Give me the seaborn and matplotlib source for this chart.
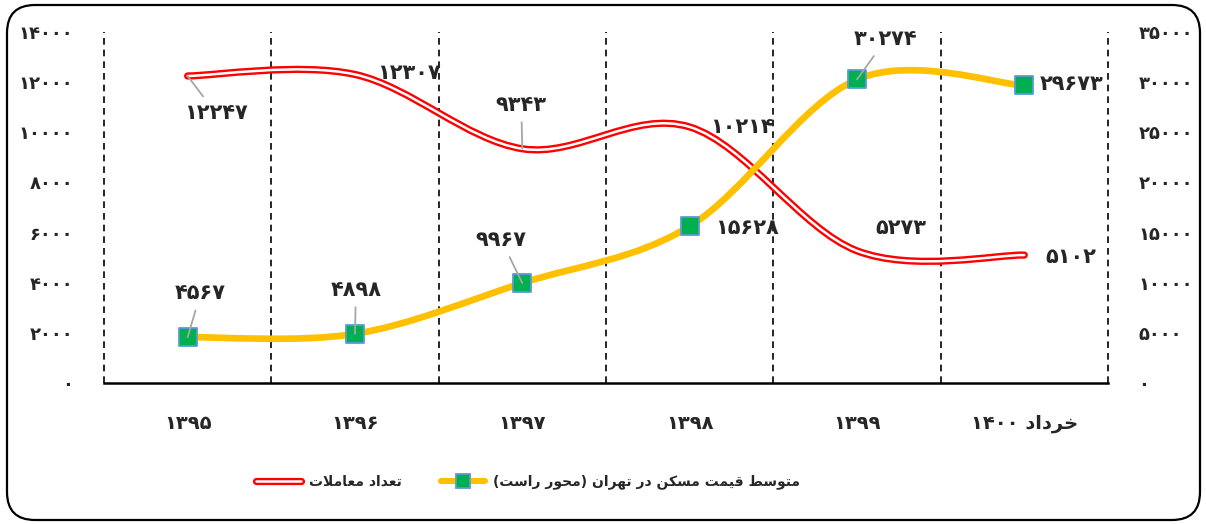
import numpy as np
import seaborn as sns
import matplotlib.pyplot as plt
from matplotlib.path import Path
from matplotlib.patches import PathPatch, FancyBboxPatch
from matplotlib.lines import Line2D
from matplotlib.legend_handler import HandlerTuple

# data
years = ["1395", "1396", "1397", "1398", "1399", "خرداد 1400"]
deals = [12247, 12307, 9343, 10214, 5273, 5102]
prices = [4567, 4898, 9967, 15628, 30274, 29673]
left_ticks = [0, 2000, 4000, 6000, 8000, 10000, 12000, 14000]
right_ticks = [0, 5000, 10000, 15000, 20000, 25000, 30000, 35000]
deals_name = "تعداد معاملات"
prices_name = "متوسط قیمت مسکن در تهران (محور راست)"

FA_DIGITS = str.maketrans("0123456789", "۰۱۲۳۴۵۶۷۸۹")

# minimal arabic shaping (matplotlib has no complex text layout)
FORMS = {
    "ا": ("\uFE8D", "\uFE8E"), "د": ("\uFEA9", "\uFEAA"),
    "ر": ("\uFEAD", "\uFEAE"), "و": ("\uFEED", "\uFEEE"),
    "ت": ("\uFE95", "\uFE96", "\uFE97", "\uFE98"),
    "خ": ("\uFEA5", "\uFEA6", "\uFEA7", "\uFEA8"),
    "ح": ("\uFEA1", "\uFEA2", "\uFEA3", "\uFEA4"),
    "ع": ("\uFEC9", "\uFECA", "\uFECB", "\uFECC"),
    "م": ("\uFEE1", "\uFEE2", "\uFEE3", "\uFEE4"),
    "ل": ("\uFEDD", "\uFEDE", "\uFEDF", "\uFEE0"),
    "س": ("\uFEB1", "\uFEB2", "\uFEB3", "\uFEB4"),
    "ط": ("\uFEC1", "\uFEC2", "\uFEC3", "\uFEC4"),
    "ق": ("\uFED5", "\uFED6", "\uFED7", "\uFED8"),
    "ی": ("\uFBFC", "\uFBFD", "\uFBFE", "\uFBFF"),
    "ک": ("\uFB8E", "\uFB8F", "\uFB90", "\uFB91"),
    "ن": ("\uFEE5", "\uFEE6", "\uFEE7", "\uFEE8"),
    "ه": ("\uFEE9", "\uFEEA", "\uFEEB", "\uFEEC"),
}


def fa(text):
    text = text.translate(FA_DIGITS)
    out = []
    i = 0
    while i < len(text):
        ch = text[i]
        if ch not in FORMS:
            out.append(ch)
            i += 1
            continue
        prev = text[i - 1] if i > 0 else ""
        joins_prev = prev in FORMS and len(FORMS[prev]) == 4
        if ch == "ل" and i + 1 < len(text) and text[i + 1] == "ا":
            out.append("\uFEFC" if joins_prev else "\uFEFB")
            i += 2
            continue
        nxt = text[i + 1] if i + 1 < len(text) else ""
        f = FORMS[ch]
        joins_next = len(f) == 4 and nxt in FORMS
        if joins_prev and joins_next:
            out.append(f[3])
        elif joins_prev:
            out.append(f[1])
        elif joins_next:
            out.append(f[2])
        else:
            out.append(f[0])
        i += 1
    vis = "".join(out)[::-1]
    # digits stay left to right, brackets get mirrored
    res, run = "", ""
    for ch in vis:
        if ch in "۰۱۲۳۴۵۶۷۸۹":
            run += ch
        else:
            res += run[::-1]
            run = ""
            res += {"(": ")", ")": "("}.get(ch, ch)
    return res + run[::-1]


def smooth(xs, ys):
    pts = np.column_stack([xs, ys]).astype(float)
    n = len(pts)
    verts, codes = [pts[0]], [Path.MOVETO]
    for i in range(n - 1):
        p0, p1 = pts[max(i - 1, 0)], pts[i]
        p2, p3 = pts[i + 1], pts[min(i + 2, n - 1)]
        verts += [p1 + (p2 - p0) / 6, p2 - (p3 - p1) / 6, p2]
        codes += [Path.CURVE4] * 3
    return Path(verts, codes)


sns.set_style("white")
plt.rcParams["font.family"] = ["DejaVu Sans"]
plt.rcParams["font.weight"] = "bold"

fig = plt.figure(figsize=(12.06, 5.24), dpi=100)
ax = fig.add_axes([0.0862, 0.2691, 0.8325, 0.6698])
ax2 = ax.twinx()

x = np.arange(len(years))
RED, YELLOW, GREEN, BLUE, GREY = "#FF0000", "#FFC000", "#00B050", "#5B9BD5", "#A6A6A6"

# deals: red double line
ax.add_patch(PathPatch(smooth(x, deals), fill=False, edgecolor=RED, lw=5.2,
                       capstyle="round", joinstyle="round"))
ax.add_patch(PathPatch(smooth(x, deals), fill=False, edgecolor="white", lw=1.8,
                       capstyle="round", joinstyle="round"))

# prices: yellow line + green squares
ax2.add_patch(PathPatch(smooth(x, prices), fill=False, edgecolor=YELLOW, lw=4.8,
                        capstyle="butt"))
sns.scatterplot(x=x, y=prices, ax=ax2, marker="s", s=170, color=GREEN,
                edgecolor=BLUE, linewidth=1.3, zorder=5, legend=False)

ax.set_xlim(-0.5, 5.5)
ax.set_ylim(0, 14000)
ax2.set_ylim(0, 35000)

# labels
deal_off = [(28, -37), (54, 1), (-1, 44), (52, 0), (44, 23), (47, -2)]
deal_lead = [True, False, True, False, False, False]
price_off = [(13, 44), (1, 44), (-21, 43), (57, -2), (29, 40), (47, 1)]
price_lead = [True, True, True, False, True, False]

for xi, v, off, lead in zip(x, deals, deal_off, deal_lead):
    ax.annotate(fa(str(v)), (xi, v), xytext=off, textcoords="offset pixels",
                ha="center", va="center", fontsize=15, fontweight="bold",
                arrowprops=dict(arrowstyle="-", color=GREY, lw=1.3, shrinkA=3, shrinkB=0) if lead else None,
                zorder=6)
for xi, v, off, lead in zip(x, prices, price_off, price_lead):
    ax2.annotate(fa(str(v)), (xi, v), xytext=off, textcoords="offset pixels",
                 ha="center", va="center", fontsize=15, fontweight="bold",
                 arrowprops=dict(arrowstyle="-", color=GREY, lw=1.3, shrinkA=3, shrinkB=0) if lead else None,
                 zorder=6)

# axes styling
for a in (ax, ax2):
    for s in ("top", "left", "right"):
        a.spines[s].set_visible(False)
ax.spines["bottom"].set_linewidth(1.8)
ax.spines["bottom"].set_color("black")
ax2.spines["bottom"].set_visible(False)

ax.set_xticks(x)
ax.set_xticklabels([fa(y) for y in years], fontsize=14, fontweight="bold")
ax.set_xticks(np.arange(-0.5, 6, 1), minor=True)
ax.tick_params(axis="x", which="major", length=0, pad=22)
ax.tick_params(axis="x", which="minor", length=7, width=1.2, color="black", direction="out")
ax.grid(False)
ax2.grid(False)
ax.grid(True, axis="x", which="minor", color="black", linestyle=(0, (4, 3)), lw=1.2)
for t in ax.xaxis.get_minor_ticks():
    t.gridline.set_clip_on(False)

ax.set_yticks(left_ticks)
ax.set_yticklabels([fa(str(t)) for t in left_ticks], fontsize=13, fontweight="bold")
ax2.set_yticks(right_ticks)
ax2.set_yticklabels([fa(str(t)) for t in right_ticks], fontsize=13, fontweight="bold")
ax.tick_params(axis="y", length=0, pad=22)
ax2.tick_params(axis="y", length=0, pad=22)

# legend
h_red = (Line2D([], [], color=RED, lw=5.2, solid_capstyle="round"),
         Line2D([], [], color="white", lw=1.8, solid_capstyle="round"))
h_yel = Line2D([], [], color=YELLOW, lw=4.4, marker="s", markersize=10,
               markerfacecolor=GREEN, markeredgecolor=BLUE, markeredgewidth=1.3)
fig.legend([h_red, h_yel], [fa(deals_name), fa(prices_name)],
           handler_map={tuple: HandlerTuple(ndivide=1)},
           loc="center", bbox_to_anchor=(0.438, 0.08), ncol=2, frameon=False,
           prop={"size": 10, "weight": "bold"}, handlelength=3.2,
           handletextpad=0.6, columnspacing=2.8)

# rounded outer border
fig.patches.append(FancyBboxPatch((0.07, 0.04), 11.93, 5.15,
                                  boxstyle="round,pad=0,rounding_size=0.28",
                                  transform=fig.dpi_scale_trans, fill=False,
                                  edgecolor="black", lw=1.6, figure=fig))

fig.savefig("out.png", dpi=100)
